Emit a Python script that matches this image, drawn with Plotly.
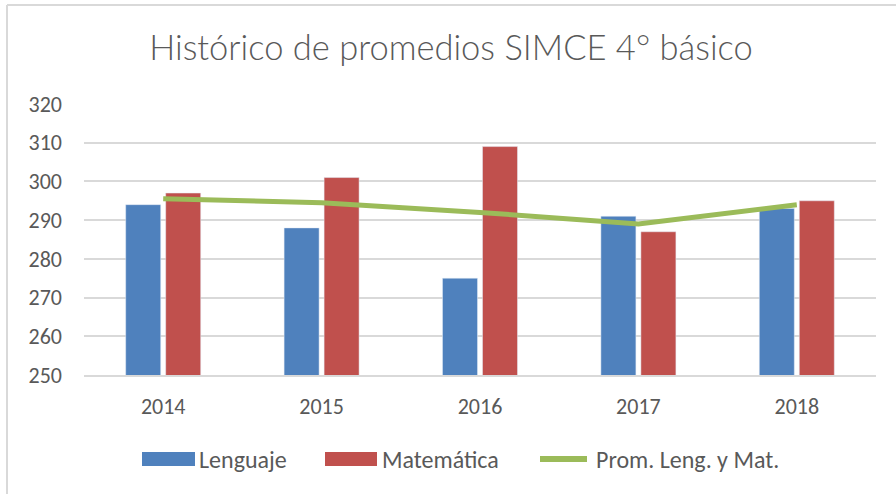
import plotly.graph_objects as go

years = ["2014", "2015", "2016", "2017", "2018"]
lenguaje = [294, 288, 275, 291, 293]
matematica = [297, 301, 309, 287, 295]
promedio = [295.5, 294.5, 292, 289, 294]

series_names = ["Lenguaje", "Matemática", "Prom. Leng. y Mat."]
colors = ["#4F81BD", "#C0504D", "#9BBB59"]

W, H = 896, 494
ml, mr, mt, mb = 84, 20, 104, 119
pw, ph = W - ml - mr, H - mt - mb
TXT = "#595959"
FONT = "Carlito, Lato, Open Sans, sans-serif"

fig = go.Figure()
fig.add_trace(go.Bar(x=years, y=lenguaje, name=series_names[0], marker_color=colors[0]))
fig.add_trace(go.Bar(x=years, y=matematica, name=series_names[1], marker_color=colors[1]))
fig.add_trace(go.Scatter(x=years, y=promedio, name=series_names[2], mode="lines",
                         line=dict(color=colors[2], width=5)))

def px_x(p):
    return (p - ml) / pw

def px_y(p):
    return (mt + ph - p) / ph

border = "#D9D9D9"
shapes = [
    dict(type="line", xref="paper", yref="paper", x0=px_x(7), x1=px_x(7), y0=px_y(500), y1=px_y(5),
         line=dict(color=border, width=2)),
    dict(type="line", xref="paper", yref="paper", x0=px_x(7), x1=px_x(900), y0=px_y(5), y1=px_y(5),
         line=dict(color=border, width=2)),
]

# legend drawn as swatches + text (wide swatches as in the original)
leg_y = 459
leg_swatch = [(142, 195), (325, 377), (537, 590)]
leg_text_x = [197, 380, 594]
annotations = []
for i, name in enumerate(series_names):
    x0, x1 = leg_swatch[i]
    if i < 2:
        shapes.append(dict(type="rect", xref="paper", yref="paper",
                           x0=px_x(x0), x1=px_x(x1), y0=px_y(leg_y + 7), y1=px_y(leg_y - 7),
                           fillcolor=colors[i], line=dict(width=0)))
    else:
        shapes.append(dict(type="line", xref="paper", yref="paper",
                           x0=px_x(x0 + 3), x1=px_x(x1 - 3), y0=px_y(leg_y), y1=px_y(leg_y),
                           line=dict(color=colors[i], width=6)))
    annotations.append(dict(text=name, xref="paper", yref="paper", x=px_x(leg_text_x[i]),
                            y=px_y(leg_y), xanchor="left", yanchor="middle", showarrow=False,
                            font=dict(size=24, color=TXT, family=FONT)))

fig.update_layout(
    width=W, height=H,
    margin=dict(l=ml, r=mr, t=mt, b=mb, autoexpand=False),
    paper_bgcolor="white", plot_bgcolor="white",
    font=dict(family=FONT, color=TXT, size=22),
    title=dict(text="Histórico de promedios SIMCE 4° básico", x=451 / W, xref="container", xanchor="center",
               y=1 - 48 / H, yref="container", yanchor="middle",
               font=dict(size=34.5, color=TXT, weight=300, family="Lato, Carlito, sans-serif")),
    barmode="group", bargap=0.495, bargroupgap=0.125,
    showlegend=False,
    xaxis=dict(showgrid=False, showline=True, linecolor="#D9D9D9", linewidth=1.5, ticks="",
               tickfont=dict(size=22, color=TXT), ticklabelstandoff=11, automargin=False),
    yaxis=dict(range=[250, 320], dtick=10, showgrid=True, gridcolor="#D9D9D9", gridwidth=1.5,
               zeroline=False, showline=False, ticks="", ticklabelstandoff=21, automargin=False,
               tickfont=dict(size=22, color=TXT)),
    shapes=shapes,
    annotations=annotations,
)

fig.write_html("out.html", config={"displayModeBar": False},
               post_script="document.body.style.margin='0';")
